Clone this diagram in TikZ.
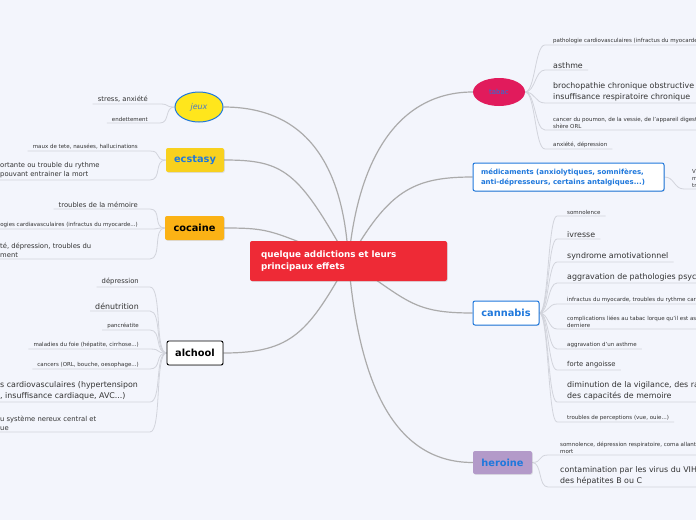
\documentclass[tikz,border=0pt]{standalone}
\usepackage{fontspec}
\setmainfont{DejaVu Sans}
\usetikzlibrary{shapes.geometric,shadows}

\definecolor{paper}{HTML}{F3F5FC}
\definecolor{branchgray}{HTML}{ABABAB}
\definecolor{twiggray}{HTML}{D2D4DC}
\definecolor{leaftext}{HTML}{333333}
\definecolor{topicblue}{HTML}{1F78DC}
\definecolor{jeuxtext}{HTML}{4A78C8}
\definecolor{jeuxyellow}{HTML}{FFE61C}
\definecolor{ecsyellow}{HTML}{F8D11E}
\definecolor{cocorange}{HTML}{FBB215}
\definecolor{tabacred}{HTML}{E11B5C}
\definecolor{herolilac}{HTML}{B39AC9}
\definecolor{centerred}{HTML}{EE2A36}

\pgfdeclarelayer{paperlayer}
\pgfdeclarelayer{linklayer}
\pgfsetlayers{paperlayer,linklayer,main}

\tikzset{
  branch/.style={draw=branchgray, line width=1.2pt},
  twig/.style={draw=twiggray, line width=0.8pt},
  lift/.style={drop shadow={opacity=0.2, shadow xshift=0.8pt, shadow yshift=-0.8pt}},
  topic/.style={rounded corners=2pt, inner sep=0pt, font=\fontsize{9.8}{11}\selectfont\bfseries},
  tinyleaf/.style={inner xsep=0pt, inner ysep=1.5pt, align=left, text=leaftext, font=\fontsize{5.5}{7}\selectfont},
  midleaf/.style={inner xsep=0pt, inner ysep=1.5pt, align=left, text=leaftext, font=\fontsize{6.8}{9}\selectfont},
  bigleaf/.style={inner xsep=0pt, inner ysep=1.5pt, align=left, text=leaftext, font=\fontsize{7.9}{11.5}\selectfont},
}

\begin{document}
\begin{tikzpicture}[x=1pt, y=-1pt]
    \useasboundingbox (0,0) rectangle (696,520);
    \begin{pgfonlayer}{paperlayer}
        \fill[paper] (0,0) rectangle (696,520);
    \end{pgfonlayer}

    % Centre
    \node[topic, lift, fill=centerred, text=white, minimum width=197pt, minimum height=40pt,
          align=left, text width=175pt, font=\fontsize{8.8}{12}\selectfont\bfseries]
          (cen) at (348.5,261) {quelque addictions et leurs\\principaux effets};

    % Topics, left
    \node[ellipse, fill=jeuxyellow, draw=topicblue, line width=1pt, minimum width=48pt,
          minimum height=30pt, inner sep=0pt, text=jeuxtext, font=\fontsize{8}{10}\selectfont\itshape]
          (jeux) at (199,107) {jeux};
    \node[topic, lift, fill=ecsyellow, text=topicblue, minimum width=58pt, minimum height=24pt] (ecstasy) at (195,160) {ecstasy};
    \node[topic, lift, fill=cocorange, text=black, minimum width=59pt, minimum height=24pt] (cocaine) at (194.5,228) {cocaine};
    \node[topic, lift, fill=white, draw=black, line width=0.9pt, minimum width=56pt, minimum height=24pt] (alchool) at (195,353) {alchool};

    % Topics, right
    \node[ellipse, fill=tabacred, text=topicblue, minimum width=52pt, minimum height=28pt,
          inner sep=0pt, font=\fontsize{7}{8}\selectfont] (tabac) at (499,92) {tabac};
    \node[topic, lift, fill=white, draw=topicblue, line width=1pt, minimum width=191pt, minimum height=28pt,
          text=topicblue, align=left, text width=175pt, font=\fontsize{7}{10}\selectfont\bfseries]
          (med) at (568.5,177) {médicaments (anxiolytiques, somnifères,\\anti-dépresseurs, certains antalgiques...)};
    \node[topic, lift, fill=white, draw=topicblue, line width=1pt, minimum width=66pt, minimum height=24pt, text=topicblue] (cannabis) at (506,313) {cannabis};
    \node[topic, lift, fill=herolilac, text=topicblue, minimum width=59pt, minimum height=23pt] (heroine) at (502.5,462.5) {heroine};

    % Junctions of the leaf underlines
    \coordinate (jeuxJ) at (160,0);
    \coordinate (ecsJ) at (150,0);
    \coordinate (cocJ) at (150,0);
    \coordinate (alcJ) at (150,0);
    \coordinate (tabJ) at (545,0);
    \coordinate (medJ) at (684,0);
    \coordinate (canJ) at (557,0);
    \coordinate (herJ) at (548,0);

    % Leaves of jeux
    \node[midleaf, anchor=south east] (j1) at (148,104) {stress, anxiété};
    \node[tinyleaf, anchor=south east] (j2) at (148,123) {endettement};

    % Leaves of ecstasy
    \node[tinyleaf, anchor=south east] (e1) at (138,151) {maux de tete, nausées, hallucinations};
    \node[midleaf, anchor=south west] (e2) at (0,180) {ortante ou trouble du rythme\\pouvant entrainer la mort};

    % Leaves of cocaine
    \node[midleaf, anchor=south east] (k1) at (138,209) {troubles de la mémoire};
    \node[tinyleaf, anchor=south east] (k2) at (138,229) {logies cardiavasculaires (infractus du myocarde...)};
    \node[midleaf, anchor=south west] (k3) at (0,259) {té, dépression, troubles du\\ment};

    % Leaves of alchool
    \node[midleaf, anchor=south east] (a1) at (139,287) {dépression};
    \node[bigleaf, anchor=south east] (a2) at (139,311) {dénutrition};
    \node[tinyleaf, anchor=south east] (a3) at (139,330) {pancréatite};
    \node[tinyleaf, anchor=south east] (a4) at (139,349) {maladies du foie (hépatite, cirrhose...)};
    \node[tinyleaf, anchor=south east] (a5) at (139,369) {cancers (ORL, bouche, oesophage...)};
    \node[bigleaf, anchor=south west] (a6) at (0,402) {s cardiovasculaires (hypertensipon\\, insuffisance cardiaque, AVC...)};
    \node[midleaf, anchor=south west] (a7) at (0,432) {u système nereux central et\\ue};

    % Leaves of tabac
    \node[tinyleaf, anchor=south west] (t1) at (553,45) {pathologie cardiovasculaires (infractus du myocarde...)};
    \node[bigleaf, anchor=south west] (t2) at (553,70) {asthme};
    \node[bigleaf, anchor=south west] (t3) at (553,103) {brochopathie chronique obstructive\\insuffisance respiratoire chronique};
    \node[tinyleaf, anchor=south west] (t4) at (553,130) {cancer du poumon, de la vessie, de l'appareil digestif,\\shère ORL};
    \node[tinyleaf, anchor=south west] (t5) at (553,149) {anxiété, dépression};

    % Leaf of medicaments
    \node[tinyleaf, anchor=south west] (m1) at (692,189) {V\\m\\tr};

    % Leaves of cannabis
    \node[tinyleaf, anchor=south west] (c1) at (567,216) {somnolence};
    \node[bigleaf, anchor=south west] (c2) at (567,239) {ivresse};
    \node[bigleaf, anchor=south west] (c3) at (567,262) {syndrome amotivationnel};
    \node[bigleaf, anchor=south west] (c4) at (567,283) {aggravation de pathologies psychiatriques};
    \node[tinyleaf, anchor=south west] (c5) at (567,304) {infractus du myocarde, troubles du rythme cardiaque};
    \node[tinyleaf, anchor=south west] (c6) at (567,329) {complications liées au tabac lorque qu'il est associé\\derniere};
    \node[tinyleaf, anchor=south west] (c7) at (567,349) {aggravation d'un asthme};
    \node[midleaf, anchor=south west] (c8) at (567,370) {forte angoisse};
    \node[bigleaf, anchor=south west] (c9) at (567,402) {diminution de la vigilance, des ra\\des capacités de memoire};
    \node[tinyleaf, anchor=south west] (c10) at (567,422) {troubles de perceptions (vue, ouie...)};

    % Leaves of heroine
    \node[tinyleaf, anchor=south west] (h1) at (560,455) {somnolence, dépression respiratoire, coma allant\\mort};
    \node[bigleaf, anchor=south west] (h2) at (560,487) {contamination par les virus du VIH\\des hépatites B ou C};

    \begin{pgfonlayer}{linklayer}
        % Branches from the centre
        \draw[branch] (cen.center) .. controls +(-5,-100) and +(80,0) .. (jeux.east);
        \draw[branch] (cen.center) .. controls +(-50,-90) and +(60,0) .. (ecstasy.east);
        \draw[branch] (cen.center) .. controls +(-80,-30) and +(50,0) .. (cocaine.east);
        \draw[branch] (cen.center) .. controls +(-40,70) and +(70,0) .. (alchool.east);
        \draw[branch] (cen.center) .. controls +(10,-110) and +(-70,0) .. (tabac.west);
        \draw[branch] (cen.center) .. controls +(40,-70) and +(-60,0) .. (med.west);
        \draw[branch] (cen.center) .. controls +(60,40) and +(-60,0) .. (cannabis.west);
        \draw[branch] (cen.center) .. controls +(10,120) and +(-80,0) .. (heroine.west);

        % Left twigs
        \foreach \leaf in {j1,j2}
            \draw[twig] ([xshift=-5pt]\leaf.south west) -- (\leaf.south west -| jeuxJ) .. controls +(10,0) and +(-10,0) .. (jeux.west);
        \foreach \leaf in {e1,e2}
            \draw[twig] ([xshift=-5pt]\leaf.south west) -- (\leaf.south west -| ecsJ) .. controls +(12,0) and +(-12,0) .. (ecstasy.west);
        \foreach \leaf in {k1,k2,k3}
            \draw[twig] ([xshift=-5pt]\leaf.south west) -- (\leaf.south west -| cocJ) .. controls +(12,0) and +(-12,0) .. (cocaine.west);
        \foreach \leaf in {a1,a2,a3,a4,a5,a6,a7}
            \draw[twig] ([xshift=-5pt]\leaf.south west) -- (\leaf.south west -| alcJ) .. controls +(12,0) and +(-12,0) .. (alchool.west);

        % Right twigs
        \foreach \leaf in {t1,t2,t3,t4,t5}
            \draw[twig] (tabac.east) .. controls +(10,0) and +(-10,0) .. (\leaf.south west -| tabJ) -- ([xshift=5pt]\leaf.south east);
        \draw[twig] (med.east) .. controls +(10,0) and +(-10,0) .. (m1.south west -| medJ) -- ([xshift=5pt]m1.south east);
        \foreach \leaf in {c1,c2,c3,c4,c5,c6,c7,c8,c9,c10}
            \draw[twig] (cannabis.east) .. controls +(9,0) and +(-9,0) .. (\leaf.south west -| canJ) -- ([xshift=5pt]\leaf.south east);
        \foreach \leaf in {h1,h2}
            \draw[twig] (heroine.east) .. controls +(10,0) and +(-10,0) .. (\leaf.south west -| herJ) -- ([xshift=5pt]\leaf.south east);
    \end{pgfonlayer}
\end{tikzpicture}
\end{document}
